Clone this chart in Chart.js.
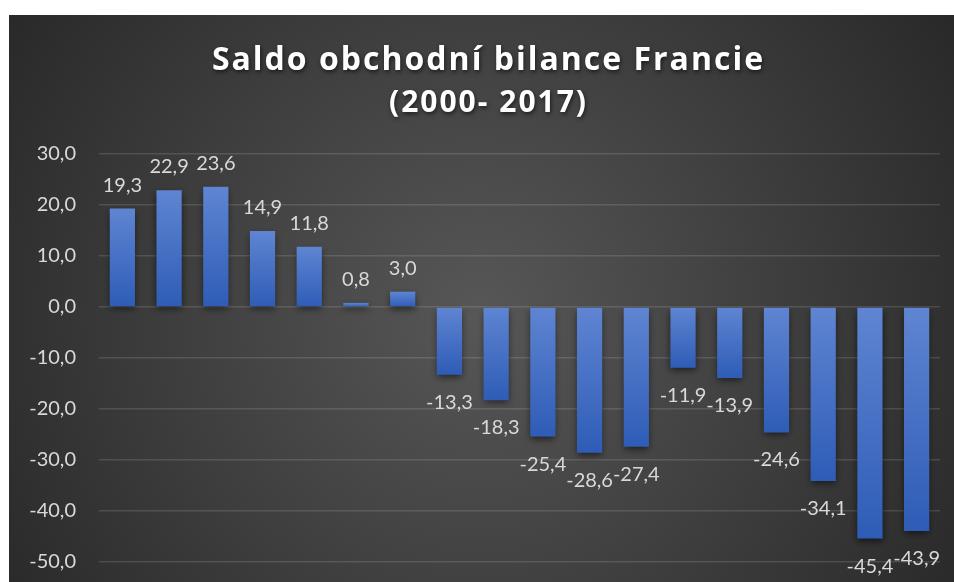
<!DOCTYPE html>
<html>
<head>
<meta charset="utf-8">
<script src="https://cdn.jsdelivr.net/npm/chart.js@4.4.1/dist/chart.umd.min.js"></script>
<style>
	html, body { margin: 0; padding: 0; background: #fff; }
	#box { position: absolute; left: 9px; top: 15px; width: 945px; height: 567px; }
</style>
</head>
<body>
<div id="box"><canvas id="chartSaldo"></canvas></div>
<script>
var roky = ['2000', '2001', '2002', '2003', '2004', '2005', '2006', '2007', '2008',
	'2009', '2010', '2011', '2012', '2013', '2014', '2015', '2016', '2017'];
var saldo = [19.3, 22.9, 23.6, 14.9, 11.8, 0.8, 3.0, -13.3, -18.3,
	-25.4, -28.6, -27.4, -11.9, -13.9, -24.6, -34.1, -45.4, -43.9];
var osaMin = -50;
var osaMax = 30;
var osaKrok = 10;

function cislo(v) {
	return v.toFixed(1).replace('.', ',');
}

var pozadi = {
	id: 'pozadi',
	beforeDraw: function(chart) {
		var ctx = chart.ctx;
		var w = chart.width, h = chart.height;
		var g = ctx.createRadialGradient(470, 300, 0, 470, 300, 620);
		g.addColorStop(0, '#575757');
		g.addColorStop(1, '#242424');
		ctx.save();
		ctx.fillStyle = g;
		ctx.fillRect(0, 0, w, h);
		ctx.restore();

		// nadpis: prolozeni pismen, stin a posun na stred
		chart.boxes.forEach(function(box) {
			if (!box.options || typeof box.options.text !== 'string' || box._obalen) return;
			var puvodni = box.draw;
			box.draw = function() {
				ctx.save();
				ctx.letterSpacing = '2px';
				ctx.shadowColor = 'rgba(0,0,0,0.6)';
				ctx.shadowBlur = 4;
				ctx.shadowOffsetX = 1;
				ctx.shadowOffsetY = 2;
				ctx.translate(14, 0);
				puvodni.apply(this, arguments);
				ctx.restore();
			};
			box._obalen = true;
		});
	}
};

var popisky = {
	id: 'popisky',
	beforeDatasetsDraw: function(chart) {
		var ctx = chart.ctx;
		ctx.save();
		ctx.shadowColor = 'rgba(0,0,0,0.55)';
		ctx.shadowBlur = 7;
		ctx.shadowOffsetY = 3;
	},
	afterDatasetsDraw: function(chart) {
		var ctx = chart.ctx;
		ctx.restore();
		var meta = chart.getDatasetMeta(0);
		ctx.save();
		ctx.font = '20px Lato';
		ctx.fillStyle = '#d9d9d9';
		ctx.textAlign = 'center';
		ctx.textBaseline = 'alphabetic';
		meta.data.forEach(function(bar, i) {
			var v = saldo[i];
			var y = v >= 0 ? bar.y - 17 : bar.y + 34;
			ctx.fillText(cislo(v), bar.x, y);
		});
		ctx.restore();
	}
};

function barva(context) {
	var chart = context.chart;
	if (!chart.chartArea) return '#4470c4';
	var y = chart.scales.y;
	var v = saldo[context.dataIndex];
	var top = y.getPixelForValue(Math.max(v, 0));
	var bot = y.getPixelForValue(Math.min(v, 0));
	if (bot - top < 1) bot = top + 1;
	var g = chart.ctx.createLinearGradient(0, top, 0, bot);
	g.addColorStop(0, '#5f85d2');
	g.addColorStop(1, '#2e5cb6');
	return g;
}

new Chart(document.getElementById('chartSaldo'), {
	type: 'bar',
	data: {
		labels: roky,
		datasets: [
			{
				label: 'Saldo',
				data: saldo,
				backgroundColor: barva,
				borderWidth: 0,
				categoryPercentage: 1,
				barPercentage: 0.54
			}
		]
	},
	options: {
		responsive: true,
		maintainAspectRatio: false,
		animation: false,
		layout: { padding: { left: 0, right: 14, top: 0, bottom: 20 } },
		plugins: {
			legend: { display: false },
			tooltip: { enabled: false },
			title: {
				display: true,
				text: 'Saldo obchodní bilance Francie',
				color: '#ffffff',
				font: { family: 'Open Sans', size: 32, weight: 'bold' },
				padding: { top: 27, bottom: 4 }
			},
			subtitle: {
				display: true,
				text: '(2000- 2017)',
				color: '#ffffff',
				font: { family: 'Open Sans', size: 30, weight: 'bold' },
				padding: { top: 1, bottom: 32.6 }
			}
		},
		scales: {
			x: {
				display: false
			},
			y: {
				min: osaMin,
				max: osaMax,
				afterFit: function(scale) {
					scale.width = 90;
					scale.paddingTop = 12;
					scale.paddingBottom = 12;
				},
				border: { display: false },
				grid: {
					color: 'rgba(255,255,255,0.13)',
					lineWidth: 1.5,
					drawTicks: false
				},
				ticks: {
					stepSize: osaKrok,
					padding: 23,
					color: '#d9d9d9',
					font: { family: 'Lato', size: 20 },
					callback: function(v) { return cislo(v); }
				}
			}
		}
	},
	plugins: [pozadi, popisky]
});
</script>
</body>
</html>
